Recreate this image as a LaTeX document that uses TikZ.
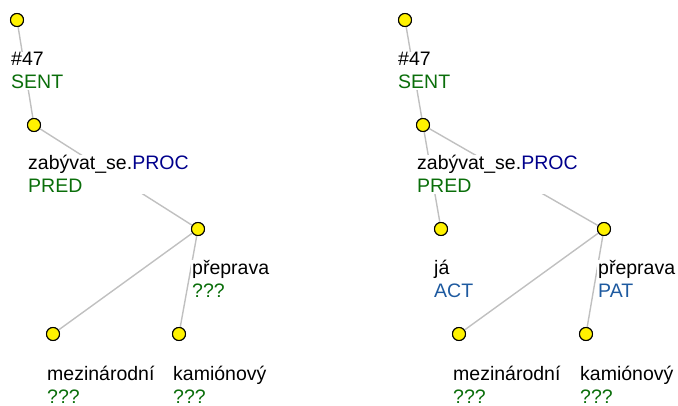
\documentclass[tikz,border=0pt]{standalone}
\usepackage{fontspec}
\setmainfont{Liberation Sans}
\definecolor{edgegray}{RGB}{192,192,192}
\definecolor{fgreen}{RGB}{10,110,10}
\definecolor{fblue}{RGB}{0,0,140}
\definecolor{rblue}{RGB}{30,90,160}
\begin{document}
\begin{tikzpicture}[x=1pt,y=-1pt,
  tnode/.style={circle,draw=black,fill=yellow,line width=1pt,minimum size=13pt,inner sep=0pt},
  edge/.style={draw=edgegray,line width=1.4pt},
  lbl/.style={anchor=base west,align=left,fill=white,inner sep=1pt,font=\fontsize{19.5}{23}\selectfont}]
\useasboundingbox (0,0) rectangle (678,406);
% left tree nodes
\node[tnode] (r1) at (17,20) {};
\node[tnode] (p1) at (34,125) {};
\node[tnode] (pr1) at (198,229) {};
\node[tnode] (m1) at (53,334) {};
\node[tnode] (k1) at (179,334) {};
% right tree nodes
\node[tnode] (r2) at (405,20) {};
\node[tnode] (p2) at (423,125) {};
\node[tnode] (j2) at (441,229) {};
\node[tnode] (pr2) at (604,229) {};
\node[tnode] (m2) at (459,334) {};
\node[tnode] (k2) at (586,334) {};
% edges
\draw[edge] (r1) -- (p1);
\draw[edge] (p1) -- (pr1);
\draw[edge] (pr1) -- (m1);
\draw[edge] (pr1) -- (k1);
\draw[edge] (r2) -- (p2);
\draw[edge] (p2) -- (j2);
\draw[edge] (p2) -- (pr2);
\draw[edge] (pr2) -- (m2);
\draw[edge] (pr2) -- (k2);
% labels (anchor at baseline of last line)
\node[lbl] (lr1) at (10,89) {\#47\\\textcolor{fgreen}{SENT}};
\node[lbl] (lp1) at (27,193) {zabývat\_se.\textcolor{fblue}{PROC}\\\textcolor{fgreen}{PRED}};
\node[lbl] (lpr1) at (191,298) {přeprava\\\textcolor{fgreen}{???}};
\node[lbl] (lm1) at (46,403) {mezinárodní\\\textcolor{fgreen}{???}};
\node[lbl] (lk1) at (172,403) {kamiónový\\\textcolor{fgreen}{???}};
\node[lbl] (lr2) at (397,89) {\#47\\\textcolor{fgreen}{SENT}};
\node[lbl] (lp2) at (416,193) {zabývat\_se.\textcolor{fblue}{PROC}\\\textcolor{fgreen}{PRED}};
\node[lbl] (lj2) at (433,298) {já\\\textcolor{rblue}{ACT}};
\node[lbl] (lpr2) at (597,298) {přeprava\\\textcolor{rblue}{PAT}};
\node[lbl] (lm2) at (452,403) {mezinárodní\\\textcolor{fgreen}{???}};
\node[lbl] (lk2) at (579,403) {kamiónový\\\textcolor{fgreen}{???}};
% redraw circles on top
\foreach \n in {r1,p1,pr1,m1,k1,r2,p2,j2,pr2,m2,k2}{
  \draw[black,fill=yellow,line width=1pt] (\n.center) circle (6.5pt);
}
\end{tikzpicture}
\end{document}
